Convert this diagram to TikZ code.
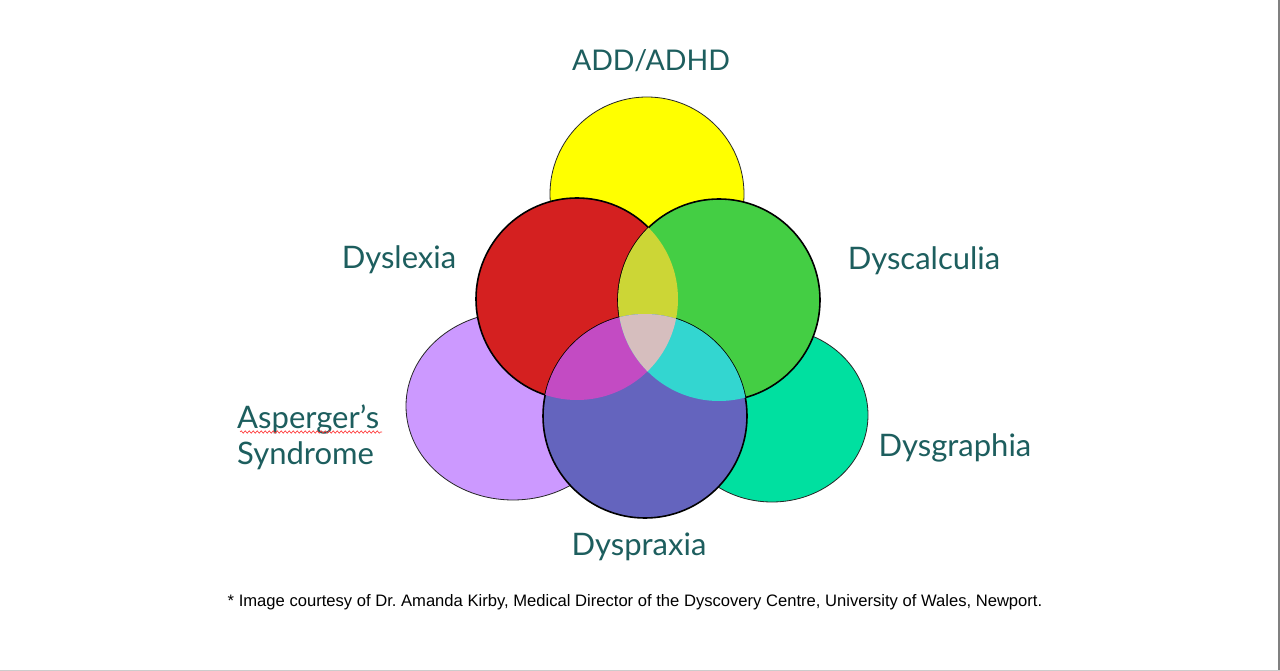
\documentclass[tikz,border=0pt]{standalone}
\usepackage{fontspec}
\setmainfont{Lato}
\newfontfamily\arialf{Liberation Sans}
\usetikzlibrary{decorations.pathmorphing}
\definecolor{txt}{HTML}{1D5E5E}
\definecolor{cyel}{HTML}{FFFF00}
\definecolor{cred}{HTML}{D42020}
\definecolor{cgrn}{HTML}{44CE44}
\definecolor{cpur}{HTML}{CC99FF}
\definecolor{cteal}{HTML}{00E0A0}
\definecolor{cblu}{HTML}{6464BE}
\definecolor{crg}{HTML}{CCD636}
\definecolor{crb}{HTML}{C34BC3}
\definecolor{cgb}{HTML}{33D6D0}
\definecolor{crgb}{HTML}{D6BEBE}
\frenchspacing
\begin{document}
\begin{tikzpicture}[x=1pt,y=-1pt,
  lab/.style={text=txt,font=\fontsize{31}{37}\selectfont,inner sep=0pt},
  thin circ/.style={draw=black!85,line width=0.8pt},
  thick circ/.style={draw=black,line width=1.6pt}]
\useasboundingbox (0,0) rectangle (1280,671);
\fill[white] (0,0) rectangle (1280,671);
\draw[gray,line width=1.5pt] (1279,0) -- (1279,671);
\draw[black!20,line width=1pt] (0,670) -- (1280,670);
% back shapes
\path[fill=cyel,thin circ] (647,194) circle (97);
\path[fill=cpur,thin circ] (513,406) ellipse (107 and 94);
\path[fill=cteal,thin circ] (772,415) ellipse (96 and 87);
% front circles
\path[fill=cred,thick circ] (577,299) circle (101);
\path[fill=cgrn,thick circ] (719,300) circle (101);
\path[fill=cblu,thick circ] (645,416) circle (102);
% overlaps
\begin{scope}
  \clip (577,299) circle (101);
  \fill[crg] (719,300) circle (101);
  \fill[crb] (645,416) circle (102);
\end{scope}
\begin{scope}
  \clip (719,300) circle (101);
  \fill[cgb] (645,416) circle (102);
\end{scope}
\begin{scope}
  \clip (577,299) circle (101);
  \clip (719,300) circle (101);
  \fill[crgb] (645,416) circle (102);
\end{scope}
% labels
\node[lab,font=\fontsize{28.5}{34}\selectfont] (add) at (651,61) {ADD/ADHD};
\node[lab] (dyslexia) at (399,260) {Dyslexia};
\node[lab] (dyscalc) at (924,261) {Dyscalculia};
\node[lab,align=left,anchor=west,font=\fontsize{31}{36}\selectfont] (asp) at (237,437) {Asperger’s\\Syndrome};
\node[lab] (dysgraph) at (955,448) {Dysgraphia};
\node[lab] (dyspraxia) at (639,547) {Dyspraxia};
\coordinate (wl) at (240,432);
\coordinate (wr) at (382,432);
\draw[red!80,line width=0.6pt,decorate,decoration={snake,amplitude=1.2pt,segment length=4pt}] (wl) -- (wr);
\node[text=black,font=\arialf\fontsize{16.6}{19}\selectfont,inner sep=0pt] (note) at (635,602) {* Image courtesy of Dr. Amanda Kirby, Medical Director of the Dyscovery Centre, University of Wales, Newport.};
\end{tikzpicture}
\end{document}
